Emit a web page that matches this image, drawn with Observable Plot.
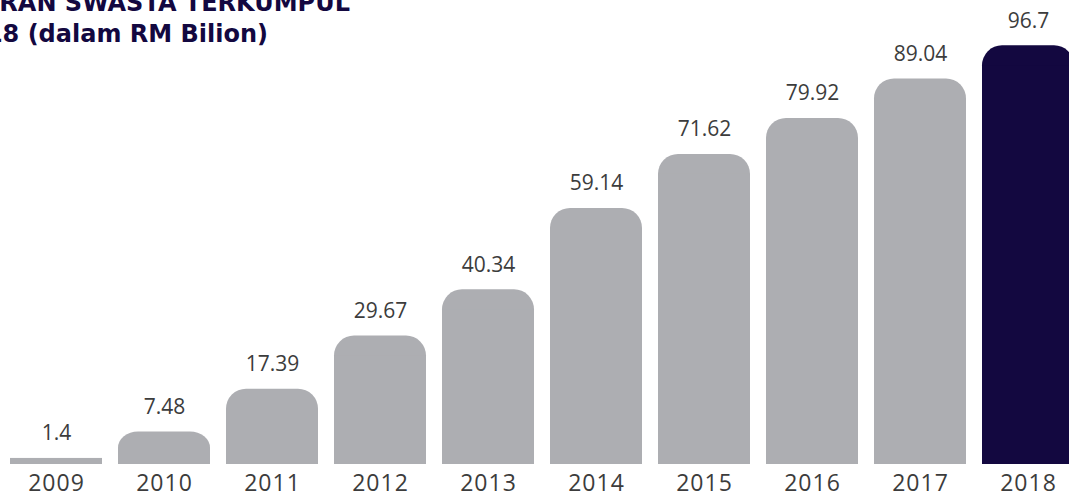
<!DOCTYPE html>
<html>
<head>
<meta charset="utf-8">
<script src="https://cdn.jsdelivr.net/npm/d3@7"></script>
<script src="https://cdn.jsdelivr.net/npm/@observablehq/plot@0.6"></script>
<style>
  html, body { margin: 0; padding: 0; background: #ffffff; overflow: hidden; }
  #wrap { position: relative; width: 1069px; height: 498px; overflow: hidden; }
  #chart { position: absolute; left: 0; top: 0; }
  .tline { position: absolute; white-space: nowrap; font-family: "DejaVu Sans", sans-serif; font-weight: 700; font-size: 24px; color: #130840; line-height: 31px; }
</style>
</head>
<body>
<div id="wrap">
  <div id="chart"></div>
  <div class="tline" id="t1" style="right:719px; top:-12px;">PELABURAN SWASTA TERKUMPUL</div>
  <div class="tline" id="t2" style="right:801px; top:19px;">2009-2018 (dalam RM Bilion)</div>
</div>
<script>
const years = ["2009", "2010", "2011", "2012", "2013", "2014", "2015", "2016", "2017", "2018"];
const values = [1.4, 7.48, 17.39, 29.67, 40.34, 59.14, 71.62, 79.92, 89.04, 96.7];
const valueLabels = ["1.4", "7.48", "17.39", "29.67", "40.34", "59.14", "71.62", "79.92", "89.04", "96.7"];
const highlightYear = "2018";
const flatYear = "2009";

const grey = "#adaeb2";
const navy = "#130840";

const data = years.map((y, i) => ({year: y, value: values[i], label: valueLabels[i], group: y === highlightYear ? "highlight" : "normal"}));

const H = 498, MT = 31, MB = 34;
const yMax = 100;
const pxPerUnit = (H - MB - MT) / yMax;
const radiusPx = 20;
const radiusData = radiusPx / pxPerUnit;

const rounded = data.filter(d => d.year !== flatYear);
const flat = data.filter(d => d.year === flatYear);

const chart = Plot.plot({
  width: 1069,
  height: H,
  marginTop: MT,
  marginBottom: MB,
  marginLeft: 0,
  marginRight: 0,
  style: {fontFamily: "'Open Sans', sans-serif", background: "transparent", color: "#3c3c3c"},
  x: {domain: years, range: [-6, 1090], padding: 0.148, label: null},
  y: {domain: [0, yMax], axis: null},
  color: {domain: ["normal", "highlight"], range: [grey, navy]},
  marks: [
    Plot.barY(rounded, {x: "year", y: "value", fill: "group", rx: radiusPx}),
    Plot.barY(rounded, {x: "year", y1: 0, y2: d => Math.max(d.value - radiusData, d.value / 2), fill: "group"}),
    Plot.barY(flat, {x: "year", y: "value", fill: "group"}),
    Plot.text(data, {x: "year", y: "value", text: "label", dy: -25, fontSize: 21, fill: "#3c3c3c", style: "letter-spacing: 1.5px"}),
    Plot.axisX({tickSize: 0, tickPadding: 10, fontSize: 23, fill: "#3c3c3c", label: null})
  ]
});
chart.querySelectorAll("g[aria-label='x-axis tick label']").forEach(el => el.style.letterSpacing = "1px");
document.getElementById("chart").appendChild(chart);
</script>
</body>
</html>
